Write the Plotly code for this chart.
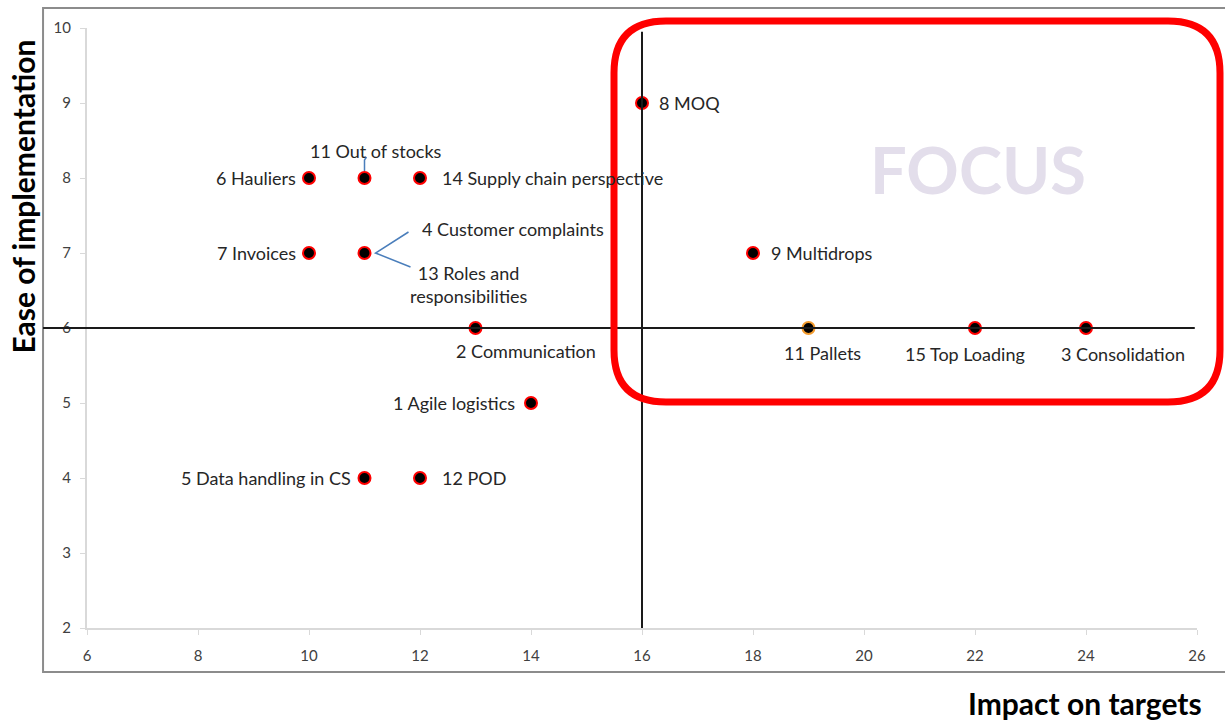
import plotly.graph_objects as go

# Initiatives scored on impact vs ease of implementation
labels = [
    "6 Hauliers", "11 Out of stocks", "14 Supply chain perspective",
    "7 Invoices", "4 Customer complaints", "13 Roles and<br>responsibilities",
    "2 Communication", "1 Agile logistics", "5 Data handling in CS", "12 POD",
    "8 MOQ", "9 Multidrops", "11 Pallets", "15 Top Loading", "3 Consolidation",
]
impact = [10, 11, 12, 10, 11, 11, 13, 14, 11, 12, 16, 18, 19, 22, 24]
ease = [8, 8, 8, 7, 7, 7, 6, 5, 4, 4, 9, 7, 6, 6, 6]

x_ticks = [6, 8, 10, 12, 14, 16, 18, 20, 22, 24, 26]
y_ticks = [2, 3, 4, 5, 6, 7, 8, 9, 10]
x_split = 16
y_split = 6

# label placement: (xshift, yshift, xanchor) in pixels
placement = [
    (-11, 0, "right"), (11, 27, "center"), (20, 0, "left"),
    (-11, 0, "right"), (55, 24, "left"), (104, -31, "center"),
    (50, -23, "center"), (-14, 0, "right"), (-12, 0, "right"), (20, 0, "left"),
    (15, 0, "left"), (16, 0, "left"), (14, -25, "center"), (-10, -26, "center"),
    (37, -26, "center"),
]

FONT = "Lato, 'Open Sans', sans-serif"
outline = ["#ff0000"] * len(labels)
outline[labels.index("11 Pallets")] = "#f29b2e"

# markers: skip the duplicated point for the second callout label
shown = [i for i in range(len(labels)) if labels[i] != "13 Roles and<br>responsibilities"]

fig = go.Figure()
fig.add_trace(go.Scatter(
    x=[impact[i] for i in shown], y=[ease[i] for i in shown],
    mode="markers",
    marker=dict(size=12, color="black",
                line=dict(color=[outline[i] for i in shown], width=2)),
    hoverinfo="skip", showlegend=False, cliponaxis=False,
))

annotations = []
for i, lab in enumerate(labels):
    dx, dy, anchor = placement[i]
    annotations.append(dict(
        x=impact[i], y=ease[i], xref="x", yref="y", text=lab, showarrow=False,
        xanchor=anchor, yanchor="middle", xshift=dx, yshift=dy, align="center",
        font=dict(family=FONT, size=18, color="#262626"),
    ))

annotations += [
    dict(x=22.05, y=8.12, xref="x", yref="y", text="<b>FOCUS</b>", showarrow=False,
         font=dict(family=FONT, size=65, color="#e3deeb")),
    dict(x=-0.058, y=(628 - 197) / 600, xref="paper", yref="paper",
         text="<b>Ease of implementation</b>",
         showarrow=False, textangle=-90, xanchor="center", yanchor="middle",
         font=dict(family=FONT, size=30, color="black")),
    dict(x=(1085 - 87) / 1110, y=(628 - 703) / 600, xref="paper", yref="paper",
         text="<b>Impact on targets</b>",
         showarrow=False, xanchor="center", yanchor="middle",
         font=dict(family=FONT, size=30, color="black")),
]

shapes = [
    # outer chart frame
    dict(type="rect", xref="paper", yref="paper", x0=-0.0396, x1=1.05, y0=-0.0733, y1=1.0333,
         line=dict(color="#8c8c8c", width=2), layer="below"),
    # quadrant dividers
    dict(type="line", xref="paper", yref="y", x0=-0.0396, x1=0.998, y0=y_split, y1=y_split,
         line=dict(color="#1a1a1a", width=2)),
    dict(type="line", xref="x", yref="y", x0=x_split, x1=x_split, y0=2, y1=9.95,
         line=dict(color="#1a1a1a", width=2)),
]

# callout connectors (pixel offsets from the data point, y upwards)
i_oos = labels.index("11 Out of stocks")
i_cc = labels.index("4 Customer complaints")
connectors = [
    (i_oos, [(0, 7), (0, 18), (2, 21)]),
    (i_cc, [(44, 21), (11, 0), (46, -14)]),
]
for idx, pts in connectors:
    path = "M" + " L".join(f"{px},{py}" for px, py in pts)
    shapes.append(dict(type="path", xref="x", yref="y",
                       xsizemode="pixel", ysizemode="pixel",
                       xanchor=impact[idx], yanchor=ease[idx], path=path,
                       line=dict(color="#4a7ebb", width=1.5)))

# rounded highlight box around the focus quadrant (paper coords)
x0, x1 = (614 - 87) / 1110, (1220 - 87) / 1110
y0, y1 = (628 - 402) / 600, (628 - 21) / 600
rx, ry = 52 / 1110, 52 / 600
box = (f"M{x0 + rx},{y1} L{x1 - rx},{y1} Q{x1},{y1} {x1},{y1 - ry} "
       f"L{x1},{y0 + ry} Q{x1},{y0} {x1 - rx},{y0} "
       f"L{x0 + rx},{y0} Q{x0},{y0} {x0},{y0 + ry} "
       f"L{x0},{y1 - ry} Q{x0},{y1} {x0 + rx},{y1} Z")
shapes.append(dict(type="path", xref="paper", yref="paper", path=box,
                   line=dict(color="#ff0000", width=7)))

axis_common = dict(
    showgrid=False, zeroline=False, showline=True, linecolor="#d9d9d9", linewidth=2,
    ticks="outside", ticklen=5, tickcolor="#d9d9d9", tickwidth=1,
    tickfont=dict(family=FONT, size=15, color="#404040"), fixedrange=True,
)

fig.update_layout(
    width=1225, height=720,
    margin=dict(l=87, r=28, t=28, b=92),
    paper_bgcolor="white", plot_bgcolor="white",
    xaxis=dict(range=[6, 26], tickvals=x_ticks, ticklabelstandoff=8, **axis_common),
    yaxis=dict(range=[2, 10], tickvals=y_ticks, ticklabelstandoff=6, **axis_common),
    annotations=annotations, shapes=shapes,
)

fig.write_html("out.html")
